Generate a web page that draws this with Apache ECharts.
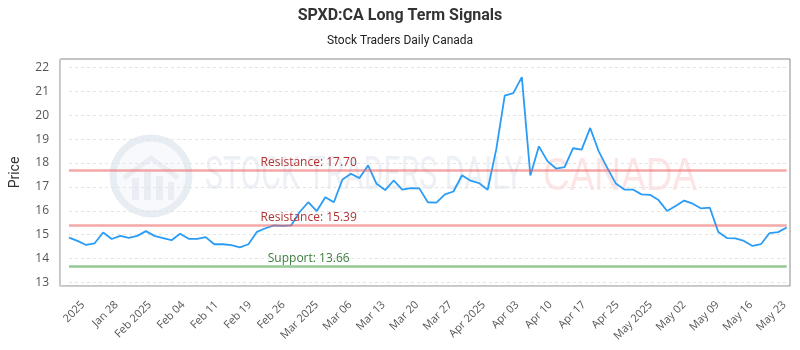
<!DOCTYPE html>
<html>
<head>
<meta charset="utf-8">
<style>
  html, body { margin: 0; padding: 0; background: #fff; }
  #chart { width: 800px; height: 350px; }
</style>
<script src="https://cdn.jsdelivr.net/npm/echarts@6/dist/echarts.min.js"></script>
</head>
<body>
<div id="chart"></div>
<script>
// trading days, Jan 22 - May 23 2025 (TSX calendar)
const dates = [
  "2025-01-22", "2025-01-23", "2025-01-24", "2025-01-27", "2025-01-28", "2025-01-29", "2025-01-30", "2025-01-31",
  "2025-02-03", "2025-02-04", "2025-02-05", "2025-02-06", "2025-02-07", "2025-02-10", "2025-02-11", "2025-02-12",
  "2025-02-13", "2025-02-14", "2025-02-18", "2025-02-19", "2025-02-20", "2025-02-21", "2025-02-24", "2025-02-25",
  "2025-02-26", "2025-02-27", "2025-02-28",
  "2025-03-03", "2025-03-04", "2025-03-05", "2025-03-06", "2025-03-07", "2025-03-10", "2025-03-11", "2025-03-12",
  "2025-03-13", "2025-03-14", "2025-03-17", "2025-03-18", "2025-03-19", "2025-03-20", "2025-03-21", "2025-03-24",
  "2025-03-25", "2025-03-26", "2025-03-27", "2025-03-28", "2025-03-31",
  "2025-04-01", "2025-04-02", "2025-04-03", "2025-04-04", "2025-04-07", "2025-04-08", "2025-04-09", "2025-04-10",
  "2025-04-11", "2025-04-14", "2025-04-15", "2025-04-16", "2025-04-17", "2025-04-21", "2025-04-22", "2025-04-23",
  "2025-04-24", "2025-04-25", "2025-04-28", "2025-04-29", "2025-04-30",
  "2025-05-01", "2025-05-02", "2025-05-05", "2025-05-06", "2025-05-07", "2025-05-08", "2025-05-09", "2025-05-12",
  "2025-05-13", "2025-05-14", "2025-05-15", "2025-05-16", "2025-05-20", "2025-05-21", "2025-05-22", "2025-05-23"
];

const prices = [
  14.88, 14.74, 14.57, 14.64, 15.09, 14.82, 14.95, 14.87,
  14.95, 15.15, 14.95, 14.86, 14.77, 15.04, 14.83, 14.83,
  14.90, 14.60, 14.60, 14.56, 14.47, 14.60, 15.12, 15.27,
  15.39, 15.37, 15.39,
  15.95, 16.36, 15.99, 16.57, 16.36, 17.31, 17.55, 17.37,
  17.90, 17.13, 16.87, 17.27, 16.89, 16.95, 16.94, 16.36,
  16.34, 16.69, 16.81, 17.49, 17.26,
  17.16, 16.88, 18.56, 20.82, 20.93, 21.60, 17.48, 18.70,
  18.08, 17.77, 17.83, 18.62, 18.56, 19.47, 18.49, 17.80,
  17.14, 16.89, 16.89, 16.69, 16.67,
  16.45, 15.99, 16.20, 16.43, 16.30, 16.10, 16.13, 15.11,
  14.86, 14.85, 14.74, 14.53, 14.61, 15.07, 15.11, 15.30
];

const tickLabels = [
  "2025", "Jan 28", "Feb 2025", "Feb 04", "Feb 11", "Feb 19", "Feb 26", "Mar 2025",
  "Mar 06", "Mar 13", "Mar 20", "Mar 27", "Apr 2025", "Apr 03", "Apr 10", "Apr 17",
  "Apr 25", "May 2025", "May 02", "May 09", "May 16", "May 23"
];

const priceTicks = [13, 14, 15, 16, 17, 18, 19, 20, 21, 22];

const resistanceLevels = [17.70, 15.39];
const supportLevels = [13.66];

const yMin = 12.853;
const yMax = 22.356;

// squeeze watermark words into the width they take in the original
const ctx = document.createElement("canvas").getContext("2d");
function fitScale(text, font, width) {
  ctx.font = font;
  return width / ctx.measureText(text).width;
}
const wmFont1 = '46px "Roboto"';
const wmFont2 = '46px "Liberation Sans"';
const wmScale1 = fitScale("STOCK TRADERS DAILY", wmFont1, 318);
const wmScale2 = fitScale("CANADA", wmFont2, 154);

const chart = echarts.init(document.getElementById("chart"), null, { renderer: "canvas" });

const levelLines = [
  ...resistanceLevels.map((v) => ({
    yAxis: v,
    lineStyle: { color: "rgba(236, 96, 96, 0.55)", width: 2.5, type: "solid" },
    label: { formatter: "Resistance: " + v.toFixed(2), color: "#b03434" },
  })),
  ...supportLevels.map((v) => ({
    yAxis: v,
    lineStyle: { color: "rgba(92, 170, 92, 0.65)", width: 2.5, type: "solid" },
    label: { formatter: "Support: " + v.toFixed(2), color: "#3b7d3b" },
  })),
];

const option = {
  animation: false,
  title: {
    text: "SPXD:CA Long Term Signals",
    subtext: "Stock Traders Daily Canada",
    left: "center",
    top: 3,
    itemGap: 11,
    textStyle: { fontFamily: "Roboto", fontSize: 16, fontWeight: "bold", color: "#333" },
    subtextStyle: { fontFamily: "Roboto", fontSize: 12, color: "#222" },
  },
  graphic: [
    {
      type: "circle",
      silent: true,
      z: 0,
      shape: { cx: 151, cy: 176, r: 38 },
      style: { fill: "rgba(236, 240, 247, 0.4)", stroke: "#e8ecf3", lineWidth: 7 },
    },
    {
      type: "polyline",
      silent: true,
      z: 0,
      shape: { points: [[124, 178], [151, 158], [178, 178]] },
      style: { stroke: "#eaeef4", lineWidth: 5, fill: null },
    },
    {
      type: "group",
      silent: true,
      z: 0,
      children: [
        { type: "rect", shape: { x: 132, y: 178, width: 7, height: 22 }, style: { fill: "#eaeef4" } },
        { type: "rect", shape: { x: 144, y: 172, width: 7, height: 28 }, style: { fill: "#eaeef4" } },
        { type: "rect", shape: { x: 156, y: 176, width: 7, height: 24 }, style: { fill: "#eaeef4" } },
        { type: "rect", shape: { x: 168, y: 182, width: 6, height: 18 }, style: { fill: "#eaeef4" } },
      ],
    },
    {
      type: "text",
      silent: true,
      z: 0,
      x: 205,
      y: 177,
      scaleX: wmScale1,
      style: {
        text: "STOCK TRADERS DAILY",
        x: 0,
        y: 0,
        verticalAlign: "middle",
        font: wmFont1,
        fill: "#edf0f5",
      },
    },
    {
      type: "text",
      silent: true,
      z: 0,
      x: 543,
      y: 177,
      scaleX: wmScale2,
      style: {
        text: "CANADA",
        x: 0,
        y: 0,
        verticalAlign: "middle",
        font: wmFont2,
        fill: "#fde5e5",
      },
    },
  ],
  grid: [
    // data area
    { left: 63.3, right: 13.3, top: 59, bottom: 64 },
    // date tick labels
    { left: 83, right: 15.6, top: 59, bottom: 64 },
    // frame
    { left: 60, right: 10, top: 59, bottom: 64, show: true, borderColor: "#8a8a8a", borderWidth: 1 },
  ],
  xAxis: [
    {
      gridIndex: 0,
      type: "category",
      data: dates,
      boundaryGap: false,
      show: false,
    },
    {
      gridIndex: 1,
      type: "value",
      min: 0,
      max: tickLabels.length - 1,
      interval: 1,
      axisLine: { show: false },
      axisTick: { show: false },
      splitLine: { show: false },
      axisLabel: {
        rotate: 45,
        margin: 17,
        fontFamily: "Open Sans",
        fontSize: 11,
        color: "#555",
        formatter: (v) => tickLabels[v] || "",
      },
    },
    {
      gridIndex: 2,
      type: "value",
      min: 0,
      max: 1,
      offset: 10,
      axisLine: { show: true, lineStyle: { color: "#cfcfcf", width: 1 } },
      axisTick: { show: false },
      axisLabel: { show: false },
      splitLine: { show: false },
    },
  ],
  yAxis: [
    {
      gridIndex: 0,
      type: "value",
      min: yMin,
      max: yMax,
      name: "Price",
      nameLocation: "middle",
      nameRotate: 90,
      nameGap: 47,
      nameTextStyle: { fontFamily: "Roboto", fontSize: 14, color: "#333" },
      axisLine: { show: false },
      axisTick: { show: false, customValues: priceTicks },
      axisLabel: {
        customValues: priceTicks,
        margin: 20,
        fontFamily: "Open Sans",
        fontSize: 12,
        color: "#555",
      },
      splitLine: { show: true, lineStyle: { color: "#e4e4e4", type: [3, 3], width: 1 } },
    },
    {
      gridIndex: 1,
      type: "value",
      show: false,
    },
    {
      gridIndex: 2,
      type: "value",
      min: 0,
      max: 1,
      offset: 10,
      axisLine: { show: true, lineStyle: { color: "#cfcfcf", width: 1 } },
      axisTick: { show: false },
      axisLabel: { show: false },
      splitLine: { show: false },
    },
  ],
  series: [
    {
      name: "Price",
      type: "line",
      xAxisIndex: 0,
      yAxisIndex: 0,
      data: prices,
      symbol: "none",
      z: 3,
      lineStyle: { color: "#2b9cf6", width: 1.8 },
      markLine: {
        silent: true,
        symbol: "none",
        animation: false,
        label: {
          position: "insideStartTop",
          distance: [239.7, 2],
          align: "center",
          fontFamily: "Open Sans",
          fontSize: 12,
        },
        data: levelLines,
      },
    },
  ],
};

chart.setOption(option);
</script>
</body>
</html>
